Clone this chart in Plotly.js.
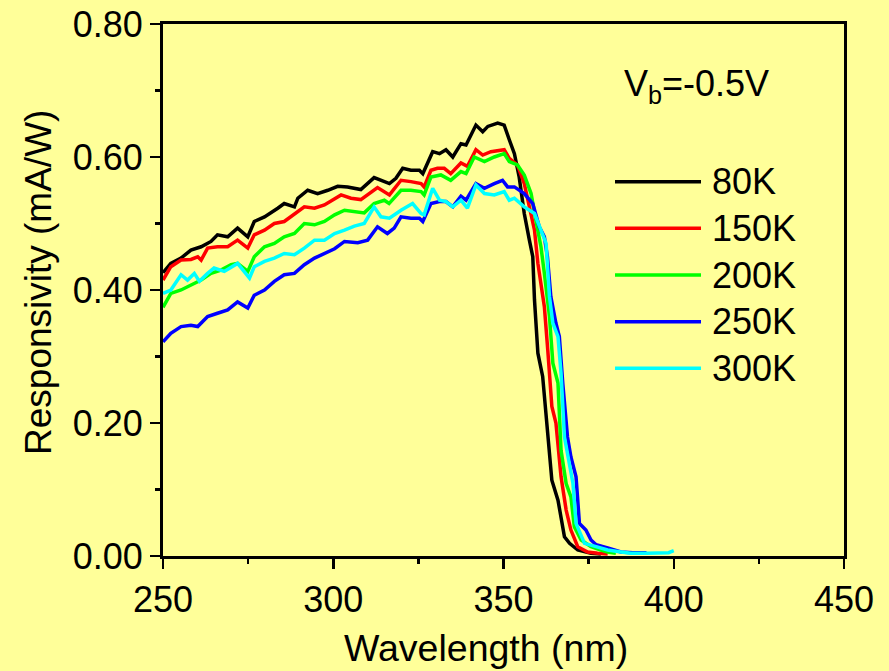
<!DOCTYPE html>
<html>
<head>
<meta charset="utf-8">
<script src="https://cdn.plot.ly/plotly-3.0.1.min.js"></script>
<style>html,body{margin:0;padding:0;background:#FFFF99;}#chart{width:889px;height:671px;}</style>
</head>
<body>
<div id="chart"></div>
<script>
// ---- data ----
const seriesNames = ["80K", "150K", "200K", "250K", "300K"];
const seriesColors = ["#000000", "#FF0000", "#00FF00", "#0000FF", "#00FFFF"];

const wl80 = [250,252.3,255.3,258.2,261.2,264.1,266,269,271.9,274.9,276.8,279.8,283.7,285.6,288.6,289.6,292.5,295.4,298.4,301.3,304.2,308.1,312,316.5,318.4,320.4,322.8,325.3,326.3,329.2,331.2,333.1,335.1,337.5,339,341.9,343.9,345.4,348.3,350.2,351.7,353.2,354.6,356.1,357.6,358.6,359.1,360.1,361.5,363,364.2,366,367.9,369.4,371.8,375.7,378.6];
const r80 = [0.426,0.440,0.448,0.460,0.465,0.473,0.483,0.480,0.493,0.480,0.503,0.510,0.523,0.530,0.525,0.538,0.550,0.545,0.550,0.556,0.555,0.551,0.569,0.560,0.568,0.583,0.580,0.580,0.575,0.608,0.605,0.611,0.600,0.620,0.618,0.648,0.638,0.646,0.651,0.648,0.626,0.605,0.570,0.515,0.475,0.450,0.385,0.305,0.270,0.190,0.114,0.084,0.029,0.019,0.009,0.004,0.003];

const wl150 = [250,252.3,255.3,258.2,260.2,261.2,263.1,266,269,271.9,274.9,276.8,279.8,282.7,285.6,288.6,291.5,294.5,297.4,302.3,305.2,308.1,313,316.5,319.9,322.8,325.8,326.7,328.7,330.6,332.6,334.5,337.5,339.4,341.9,343.9,346.3,350.2,351.7,354.1,356.1,357.6,359.1,360.1,361,362,363,364.2,365.4,366.9,368.4,369.8,371.8,374.7,377.6,380.6];
const r150 = [0.415,0.435,0.445,0.446,0.450,0.445,0.463,0.465,0.465,0.475,0.463,0.483,0.490,0.500,0.503,0.515,0.525,0.523,0.528,0.543,0.538,0.536,0.554,0.543,0.565,0.563,0.560,0.555,0.580,0.583,0.583,0.575,0.591,0.586,0.611,0.603,0.608,0.611,0.598,0.588,0.560,0.525,0.490,0.440,0.405,0.375,0.310,0.225,0.200,0.119,0.069,0.039,0.014,0.006,0.004,0.003];

const wl200 = [250,252.3,255.3,258.2,261.2,264.1,267,270,271.9,274.9,276.8,279.8,282.7,285.6,288.6,291.5,294.5,297.4,300.4,303.3,306.2,309.1,312,315,316.4,319.9,322.8,325.8,326.7,328.7,331.6,334.5,337.5,339,341.4,344.4,347.3,350.2,351.7,354.1,356.1,358.1,359.5,361,362,363.5,364.5,366,366.9,368.4,369.8,370.8,372.8,375.7,378.6,380.6,383];
const r200 = [0.374,0.395,0.400,0.408,0.415,0.425,0.430,0.438,0.440,0.428,0.450,0.465,0.470,0.480,0.485,0.500,0.498,0.503,0.513,0.520,0.518,0.516,0.530,0.535,0.530,0.550,0.550,0.548,0.543,0.570,0.573,0.565,0.578,0.575,0.600,0.593,0.600,0.605,0.593,0.588,0.573,0.545,0.505,0.465,0.425,0.360,0.290,0.260,0.159,0.109,0.089,0.044,0.024,0.014,0.009,0.006,0.004];

const wl250 = [250,252.3,255.3,258.2,260.2,263.1,266,269,271.9,274.9,276.8,279.8,282.7,285.6,288.6,291.5,294.5,297.4,300.4,303.3,307.2,310.1,313,315.9,317.9,319.9,322.8,325.3,326.3,328.7,331.2,333.1,335.1,337.5,339,341.9,344.4,347.3,349.7,351.2,353.2,356.1,358.6,360.5,362,362.9,363.9,365.4,366.4,367.4,368.8,369.8,371.3,372.3,374.2,375.7,377.2,380.6,384.5,388,392];
const r250 = [0.322,0.335,0.345,0.347,0.345,0.360,0.365,0.370,0.382,0.373,0.392,0.400,0.413,0.423,0.425,0.438,0.448,0.455,0.462,0.473,0.471,0.475,0.495,0.485,0.493,0.510,0.508,0.508,0.503,0.530,0.533,0.533,0.525,0.541,0.535,0.560,0.553,0.560,0.565,0.555,0.555,0.545,0.530,0.495,0.480,0.450,0.390,0.350,0.330,0.260,0.179,0.149,0.119,0.049,0.039,0.024,0.017,0.012,0.006,0.005,0.005];

const wl300 = [250,252.3,255.3,257.2,259.2,260.7,263.1,265,268,271.9,275.4,276.8,279.8,282.7,285.6,288.6,291.5,294.5,297.4,300.4,303.3,306.2,309.1,312,314,316.5,319.9,323.3,325.8,326.7,329.2,331.2,333.1,335.1,337.5,339.4,341.9,344.4,347.3,350.2,351.7,353.2,356.1,359.1,361,362.5,363.5,364.5,366,366.9,367.9,369.4,370.4,371.3,373.8,377.2,380.6,384.5,387.4,392,396,398.5,400];
const r300 = [0.395,0.400,0.423,0.415,0.425,0.413,0.425,0.433,0.428,0.440,0.418,0.435,0.443,0.448,0.455,0.453,0.463,0.475,0.475,0.485,0.490,0.496,0.500,0.525,0.510,0.508,0.520,0.530,0.515,0.513,0.553,0.535,0.533,0.525,0.535,0.523,0.558,0.545,0.543,0.548,0.535,0.538,0.525,0.515,0.490,0.470,0.390,0.350,0.330,0.275,0.179,0.139,0.109,0.049,0.019,0.014,0.009,0.006,0.004,0.004,0.004,0.005,0.008];

const xTickVals = [250, 300, 350, 400, 450];
const xTickText = ["250", "300", "350", "400", "450"];
const yTickVals = [0, 0.2, 0.4, 0.6, 0.8];
const yTickText = ["0.00", "0.20", "0.40", "0.60", "0.80"];
const xTitle = "Wavelength (nm)";
const yTitle = "Responsivity (mA/W)";
const biasLabel = "V<sub>b</sub>=-0.5V";

// ---- build ----
const xs = [wl80, wl150, wl200, wl250, wl300];
const ys = [r80, r150, r200, r250, r300];
const FONT = "Liberation Sans, Arial, sans-serif";
const FS = 36;

const traces = xs.map((x, i) => ({
  x: x, y: ys[i], type: "scatter", mode: "lines", name: seriesNames[i],
  line: {color: seriesColors[i], width: 3.5}, showlegend: false
}));

// plot area in pixels (for placing the hand-drawn legend and titles)
const L = 163, R = 45, T = 24, B = 115, W = 889, H = 671;
const pw = W - L - R, ph = H - T - B;
const px = p => (p - L) / pw;
const py = p => (H - B - p) / ph;

const shapes = [], annotations = [];
seriesNames.forEach((n, i) => {
  const yy = 181.7 + i * 46.65;
  shapes.push({type: "line", xref: "paper", yref: "paper", x0: px(615), x1: px(701), y0: py(yy), y1: py(yy),
    line: {color: seriesColors[i], width: 3.5}});
  annotations.push({xref: "paper", yref: "paper", x: px(710), y: py(yy), xanchor: "left", yanchor: "middle",
    text: n, showarrow: false, font: {family: FONT, size: FS, color: "#000"}});
});
annotations.push({xref: "paper", yref: "paper", x: px(622), y: py(86), xanchor: "left", yanchor: "middle",
  text: biasLabel, showarrow: false, font: {family: FONT, size: FS, color: "#000"}});
// axis titles
annotations.push({xref: "paper", yref: "paper", x: px(486), y: py(648), xanchor: "center", yanchor: "middle",
  text: xTitle, showarrow: false, font: {family: FONT, size: 37.5, color: "#000"}});
annotations.push({xref: "paper", yref: "paper", x: px(38), y: py(283), xanchor: "center", yanchor: "middle",
  textangle: -90, text: yTitle, showarrow: false, font: {family: FONT, size: 37, color: "#000"}});

const axisCommon = {
  showgrid: false, zeroline: false, showline: true, linecolor: "#000", linewidth: 3, mirror: true,
  ticks: "outside", ticklen: 10, tickwidth: 2.5, tickcolor: "#000",
  tickfont: {family: FONT, size: FS, color: "#000"}
};

const layout = {
  width: W, height: H,
  margin: {l: L, r: R, t: T, b: B, pad: 0},
  paper_bgcolor: "#FFFF99", plot_bgcolor: "#FFFF99",
  showlegend: false,
  xaxis: Object.assign({}, axisCommon, {
    range: [250, 450], tickvals: xTickVals, ticktext: xTickText,
    minor: {tickvals: [275, 325, 375, 425], ticks: "outside", ticklen: 5, tickwidth: 2.5, tickcolor: "#000"}
  }),
  yaxis: Object.assign({}, axisCommon, {
    range: [0, 0.8], tickvals: yTickVals, ticktext: yTickText,
    minor: {tickvals: [0.1, 0.3, 0.5, 0.7], ticks: "outside", ticklen: 5, tickwidth: 2.5, tickcolor: "#000"}
  }),
  shapes: shapes,
  annotations: annotations
};

Plotly.newPlot("chart", traces, layout, {displayModeBar: false, staticPlot: true});
</script>
</body>
</html>
